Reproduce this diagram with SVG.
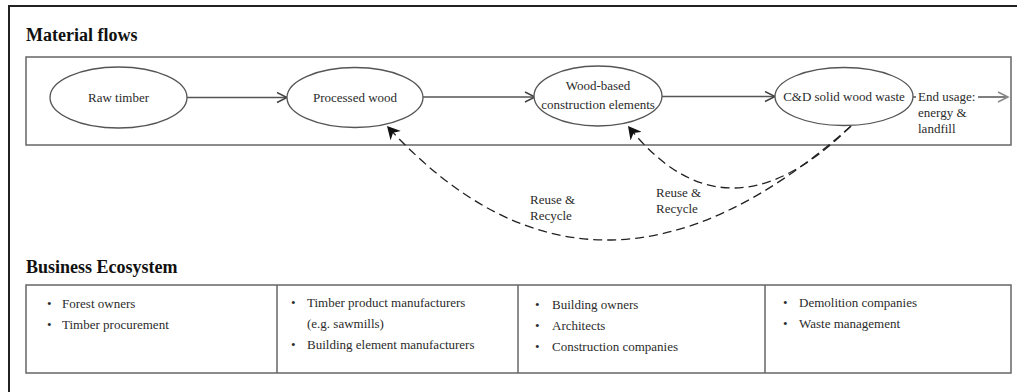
<svg xmlns="http://www.w3.org/2000/svg" width="1017" height="392" viewBox="0 0 1017 392">
<style>
text{font-family:"Liberation Serif","Times New Roman",serif;fill:#2b2b2b;font-size:13px}
.title{font-size:18px;font-weight:bold;fill:#111}
.box{fill:none;stroke:#666;stroke-width:1.5}
.node{fill:#fff;stroke:#555;stroke-width:1.3}
.flow{fill:none;stroke:#555;stroke-width:1.4}
.dash{fill:none;stroke:#222;stroke-width:1.3;stroke-dasharray:9 5}
.mid{text-anchor:middle}
</style>
<defs>
<marker id="chev" markerUnits="userSpaceOnUse" markerWidth="14" markerHeight="12" refX="11" refY="6" orient="auto">
<path d="M1,1 L11,6 L1,11" fill="none" stroke="#444" stroke-width="1.5"/>
</marker>
<marker id="chevg" markerUnits="userSpaceOnUse" markerWidth="14" markerHeight="12" refX="11" refY="6" orient="auto">
<path d="M1,1 L11,6 L1,11" fill="none" stroke="#888" stroke-width="1.5"/>
</marker>
<marker id="solid" markerUnits="userSpaceOnUse" markerWidth="16" markerHeight="14" refX="13" refY="7" orient="auto">
<path d="M0,0 L13,7 L0,14 L4,7 Z" fill="#111"/>
</marker>
</defs>
<rect x="9" y="6" width="1030" height="410" fill="none" stroke="#222" stroke-width="2"/>
<text class="title" x="26" y="41">Material flows</text>
<rect class="box" x="26" y="57" width="985" height="88"/>
<g id="connectors">
<line class="flow" x1="187" y1="97.5" x2="287" y2="97.5" marker-end="url(#chev)"/>
<line class="flow" x1="423" y1="97" x2="535" y2="97" marker-end="url(#chev)"/>
<line class="flow" x1="662" y1="96.5" x2="775" y2="96.5" marker-end="url(#chev)"/>
<line class="flow" x1="913" y1="97" x2="1008" y2="97" stroke="#888" marker-end="url(#chevg)"/>
<path class="dash" d="M851,126 Q595,354 387,126" marker-end="url(#solid)"/>
<path class="dash" d="M851,126 Q726,250 628,126" marker-end="url(#solid)"/>
</g>
<g id="n-raw"><ellipse class="node" cx="118.5" cy="97.5" rx="68.5" ry="30.5"/><text class="mid" x="118.5" y="102">Raw timber</text></g>
<g id="n-processed"><ellipse class="node" cx="355" cy="97.5" rx="68" ry="30"/><text class="mid" x="355" y="102">Processed wood</text></g>
<g id="n-woodbased"><ellipse class="node" cx="598" cy="96" rx="64" ry="30"/><text class="mid" x="598" y="90">Wood-based</text><text class="mid" x="598" y="109">construction elements</text></g>
<g id="n-cd"><ellipse class="node" cx="844" cy="96.5" rx="69" ry="29"/><text class="mid" x="844" y="101">C&amp;D solid wood waste</text></g>
<g id="end-usage">
<rect x="916" y="88" width="62" height="15" fill="#fff"/>
<text x="918" y="101">End usage:</text>
<text x="918" y="117">energy &amp;</text>
<text x="918" y="133">landfill</text>
</g>
<g id="label-reuse1"><text x="530" y="204">Reuse &amp;</text><text x="530" y="220">Recycle</text></g>
<g id="label-reuse2"><text x="656" y="197">Reuse &amp;</text><text x="656" y="213">Recycle</text></g>
<text class="title" x="26" y="273">Business Ecosystem</text>
<g id="business">
<rect class="box" x="26" y="285" width="985" height="88"/>
<line class="box" x1="277" y1="285" x2="277" y2="373"/>
<line class="box" x1="518" y1="285" x2="518" y2="373"/>
<line class="box" x1="765" y1="285" x2="765" y2="373"/>
</g>
<g id="col1"><text x="47" y="308">•</text><text x="62" y="308">Forest owners</text><text x="47" y="329">•</text><text x="62" y="329">Timber procurement</text></g>
<g id="col2"><text x="291" y="307">•</text><text x="307" y="307">Timber product manufacturers</text><text x="307" y="328">(e.g. sawmills)</text><text x="291" y="349">•</text><text x="307" y="349">Building element manufacturers</text></g>
<g id="col3"><text x="535" y="309">•</text><text x="552" y="309">Building owners</text><text x="535" y="330">•</text><text x="552" y="330">Architects</text><text x="535" y="351">•</text><text x="552" y="351">Construction companies</text></g>
<g id="col4"><text x="783" y="307">•</text><text x="799" y="307">Demolition companies</text><text x="783" y="328">•</text><text x="799" y="328">Waste management</text></g>
</svg>
